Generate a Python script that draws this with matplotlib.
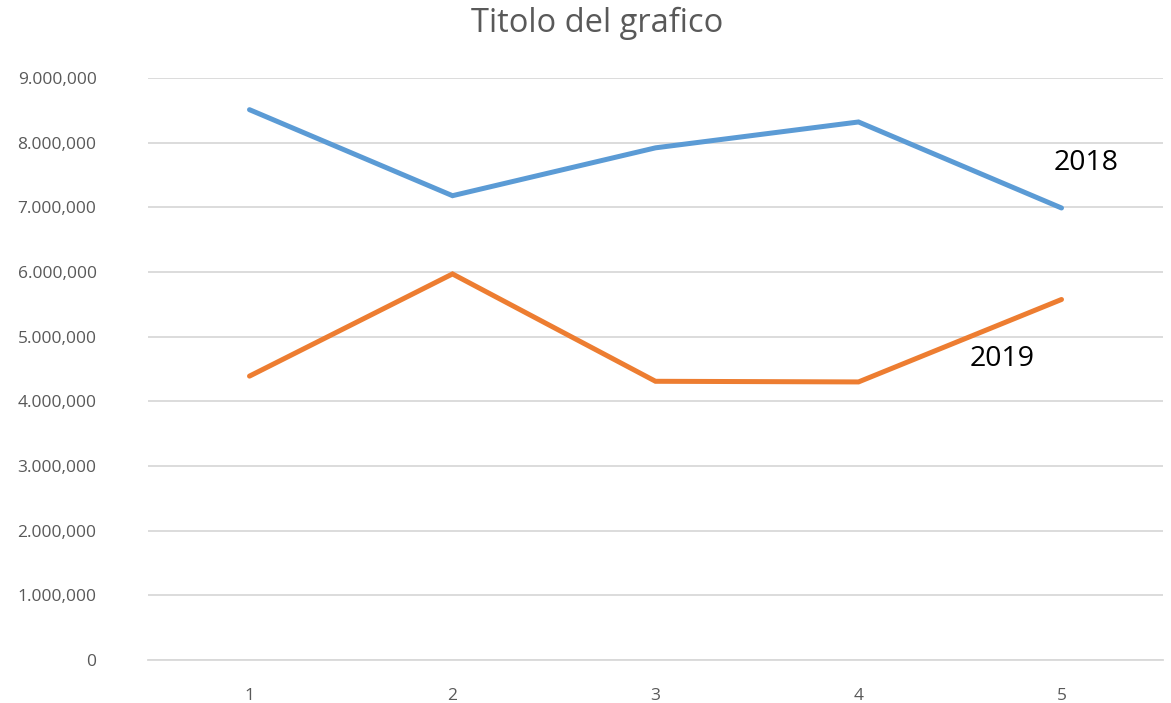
import matplotlib
matplotlib.use("Agg")
import matplotlib.pyplot as plt
from matplotlib.ticker import FuncFormatter

categories = [1, 2, 3, 4, 5]
values_2018 = [8510000, 7180000, 7920000, 8320000, 6990000]
values_2019 = [4390000, 5970000, 4310000, 4300000, 5575000]
series_names = ["2018", "2019"]
title = "Titolo del grafico"

plt.rcParams['font.family'] = ['Open Sans', 'DejaVu Sans']

fig = plt.figure(figsize=(11.71, 7.03), dpi=100)
ax = fig.add_axes([148/1171, 1 - 660/703, (1163-148)/1171, (660-78)/703])

ax.plot(categories, values_2018, color='#5b9bd5', lw=3.6, solid_capstyle='round', solid_joinstyle='miter', zorder=3)
ax.plot(categories, values_2019, color='#ed7d31', lw=3.6, solid_capstyle='round', solid_joinstyle='miter', zorder=3)

ax.set_xlim(0.5, 5.5)
ax.set_ylim(0, 9000000)
ax.set_yticks(range(0, 9000001, 1000000))
ax.set_xticks(categories)
ax.set_xticklabels([str(c) for c in categories])

def fmt(v, pos):
    v = int(round(v))
    if v == 0:
        return "0"
    s = f"{v:,}"
    parts = s.split(",")
    return parts[0] + "." + ",".join(parts[1:])
ax.yaxis.set_major_formatter(FuncFormatter(fmt))

ax.grid(axis='y', color='#d9d9d9', lw=1.3, zorder=0)
for s in ['top', 'right', 'left']:
    ax.spines[s].set_visible(False)
ax.spines['bottom'].set_color('#d9d9d9')
ax.spines['bottom'].set_linewidth(1.3)
ax.tick_params(axis='both', length=0, labelsize=12.5, labelcolor='#595959')
ax.tick_params(axis='y', pad=37)
ax.tick_params(axis='x', pad=20)
for lab in ax.get_yticklabels():
    lab.set_horizontalalignment('right')

fig.text(597/1171, 1 - 23/703, title, ha='center', va='center', fontsize=23.5, color='#595959')

ax.annotate(series_names[0], xy=(5, values_2018[4]), xytext=(1086/1171, 1 - 163/703),
            textcoords='figure fraction', ha='center', va='center', fontsize=20.5, color='black')
ax.annotate(series_names[1], xy=(5, values_2019[4]), xytext=(1002/1171, 1 - 359/703),
            textcoords='figure fraction', ha='center', va='center', fontsize=20.5, color='black')

fig.savefig("out.png", dpi=100)
